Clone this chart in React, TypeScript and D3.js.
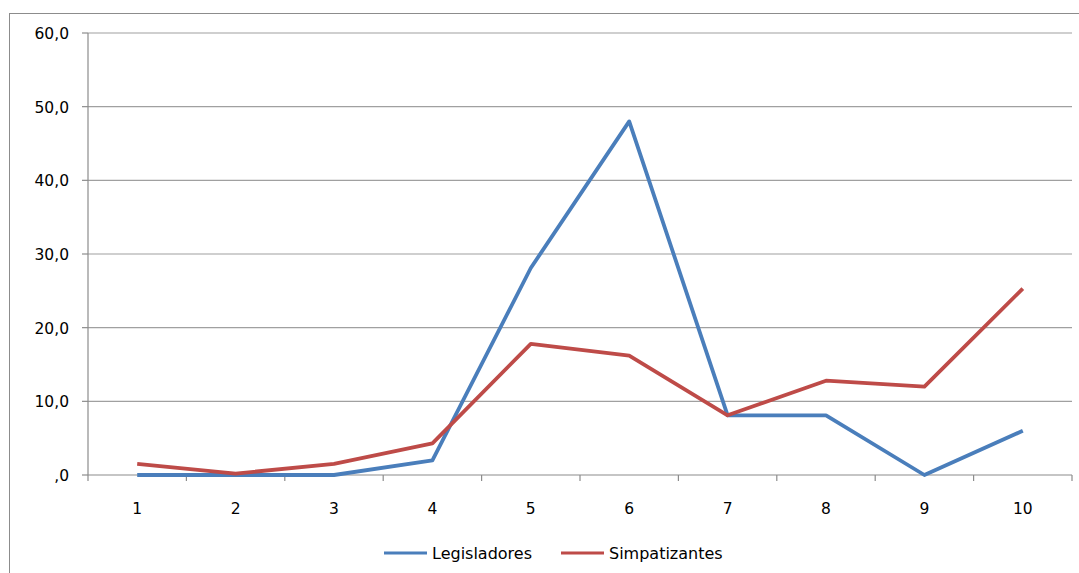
import React from "react";
import * as d3 from "d3";

const categories = ["1", "2", "3", "4", "5", "6", "7", "8", "9", "10"];
const legisladores = [0, 0, 0, 2.0, 28.1, 48.0, 8.1, 8.1, 0, 6.0];
const simpatizantes = [1.5, 0.2, 1.5, 4.3, 17.8, 16.2, 8.1, 12.8, 12.0, 25.3];
const yTicks = [0, 10, 20, 30, 40, 50, 60];
const seriesNames = ["Legisladores", "Simpatizantes"];
const colors = ["#4A7EBB", "#BE4B48"];

const W = 1079, H = 573;
const left = 88, right = 1072, top = 33, bottom = 475;
const font = "'DejaVu Sans', sans-serif";

export default function App() {
  const x = d3.scaleBand<string>().domain(categories).range([left, right]);
  const y = d3.scaleLinear().domain([0, 60]).range([bottom, top]);
  const line = d3
    .line<number>()
    .x((_, i) => (x(categories[i]) as number) + x.bandwidth() / 2)
    .y((d) => y(d));
  const fmt = (v: number) => (v === 0 ? ",0" : d3.format(".1f")(v).replace(".", ","));
  const series = [legisladores, simpatizantes];
  const tickXs = categories.map((c) => x(c) as number).concat([right]);

  return (
    <svg width={W} height={H} style={{ position: "absolute", left: 0, top: 0, background: "#fff" }}>
      <rect x={9.5} y={13.5} width={1100} height={600} fill="none" stroke="#8c8c8c" strokeWidth={1} />
      {yTicks.map((t) => (
        <g key={t}>
          {t > 0 && (
            <line x1={left} x2={right} y1={y(t)} y2={y(t)} stroke="#a0a0a0" strokeWidth={1.2} />
          )}
          <line x1={left - 6} x2={left} y1={y(t)} y2={y(t)} stroke="#8c8c8c" strokeWidth={1.2} />
          <text x={69} y={y(t) + 6} textAnchor="end" fontFamily={font} fontSize={15.5} fill="#000">
            {fmt(t)}
          </text>
        </g>
      ))}
      <line x1={left} x2={left} y1={top} y2={bottom} stroke="#8c8c8c" strokeWidth={1.2} />
      <line x1={left} x2={right} y1={bottom} y2={bottom} stroke="#8c8c8c" strokeWidth={1.2} />
      {tickXs.map((tx, i) => (
        <line key={i} x1={tx} x2={tx} y1={bottom} y2={bottom + 6} stroke="#8c8c8c" strokeWidth={1.2} />
      ))}
      {categories.map((c) => (
        <text
          key={c}
          x={(x(c) as number) + x.bandwidth() / 2}
          y={514}
          textAnchor="middle"
          fontFamily={font}
          fontSize={15.5}
          fill="#000"
        >
          {c}
        </text>
      ))}
      {series.map((s, i) => (
        <path key={i} d={line(s) || ""} fill="none" stroke={colors[i]} strokeWidth={3.8} strokeLinejoin="round" />
      ))}
      {seriesNames.map((n, i) => {
        const lx = i === 0 ? 384 : 561;
        return (
          <g key={n}>
            <line x1={lx} x2={lx + 43} y1={553} y2={553} stroke={colors[i]} strokeWidth={3} />
            <text x={lx + 48} y={559} fontFamily={font} fontSize={16} fill="#000">
              {n}
            </text>
          </g>
        );
      })}
    </svg>
  );
}
